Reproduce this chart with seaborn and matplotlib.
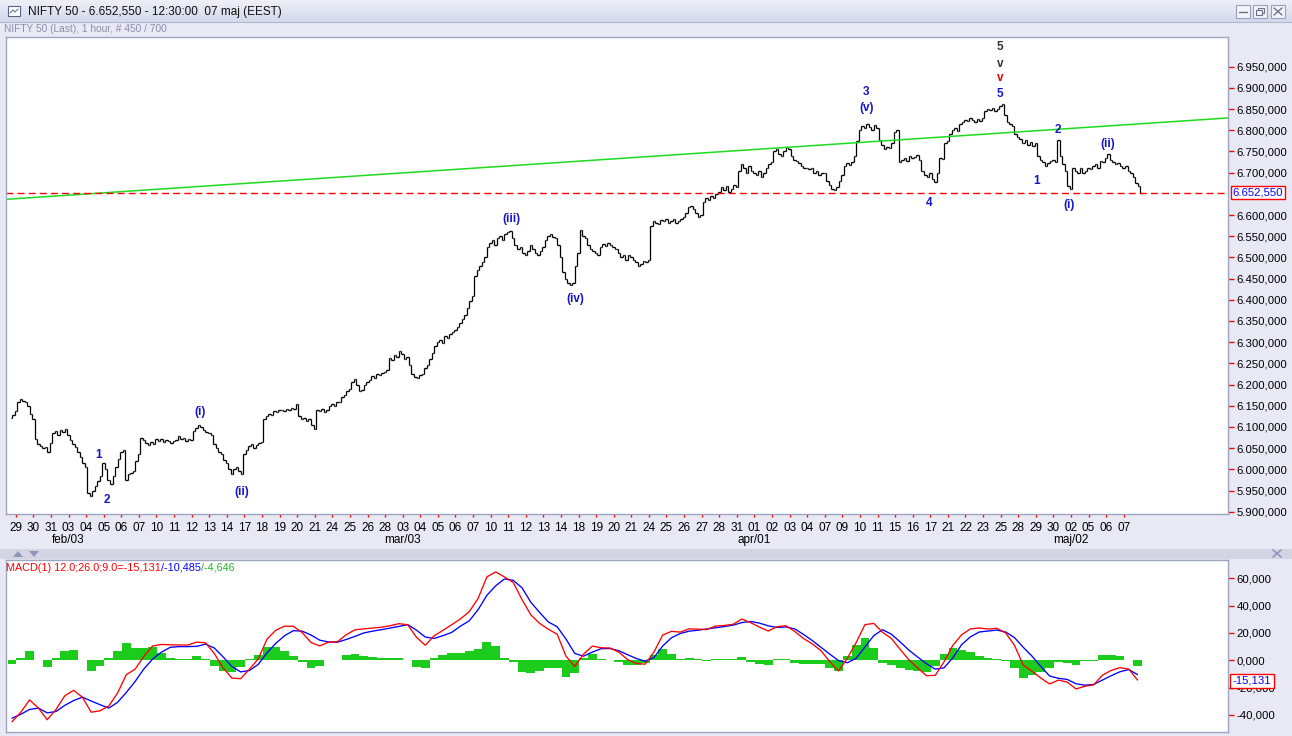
import numpy as np
import pandas as pd
import matplotlib.pyplot as plt
import seaborn as sns
from matplotlib.patches import Rectangle, Polygon
from matplotlib.colors import LinearSegmentedColormap
from matplotlib.transforms import blended_transform_factory

# ---------------------------------------------------------------- data
day_labels = [
    "29", "30", "31",
    "03", "04", "05", "06", "07", "10", "11", "12", "13", "14", "17", "18", "19", "20", "21",
    "24", "25", "26", "28",
    "03", "04", "05", "06", "07", "10", "11", "12", "13", "14", "18", "19", "20", "21",
    "24", "25", "26", "27", "28", "31",
    "01", "02", "03", "04", "07", "09", "10", "11", "15", "16", "17", "21", "22", "23",
    "25", "28", "29", "30",
    "02", "05", "06", "07",
]
month_labels = ["feb/03", "mar/03", "apr/01", "maj/02"]
month_days = [3, 22, 42, 60]

first_open = 6120
# hourly closes, 2 bars of 28 Jan then 7 bars per trading day
closes = [
    6128, 6138,
    6160, 6165, 6162, 6158, 6150, 6130, 6118,
    6072, 6060, 6055, 6050, 6052, 6040, 6062,
    6085, 6090, 6082, 6092, 6088, 6095, 6080,
    6070, 6060, 6052, 6040, 6030, 6015, 6005,
    5945, 5938, 5950, 5960, 5972, 5985, 6015,
    6000, 5975, 5965, 5985, 6005, 6025, 6040,
    6045, 5975, 5990, 5992, 5995, 6020, 6035,
    6075, 6070, 6062, 6058, 6065, 6060, 6072,
    6068, 6072, 6065, 6070, 6068, 6062, 6066,
    6070, 6078, 6072, 6075, 6068, 6072, 6070,
    6090, 6098, 6105, 6100, 6092, 6088, 6085,
    6080, 6060, 6050, 6040, 6035, 6022, 6015,
    6000, 5990, 6000, 6005, 5995, 5988, 6035,
    6045, 6055, 6060, 6050, 6058, 6062, 6065,
    6118, 6125, 6130, 6128, 6138, 6135, 6140,
    6140, 6138, 6142, 6140, 6145, 6142, 6155,
    6125, 6118, 6120, 6115, 6118, 6105, 6095,
    6140, 6138, 6142, 6136, 6140, 6150, 6155,
    6150, 6160, 6158, 6170, 6175, 6185, 6190,
    6205, 6212, 6200, 6185, 6188, 6198, 6205,
    6210, 6220, 6215, 6225, 6222, 6228, 6230,
    6235, 6262, 6258, 6270, 6265, 6278, 6272,
    6260, 6265, 6245, 6225, 6218, 6215, 6222,
    6225, 6240, 6245, 6260, 6275, 6290, 6300,
    6305, 6298, 6315, 6310, 6320, 6325, 6328,
    6335, 6345, 6355, 6365, 6380, 6398, 6410,
    6455, 6470, 6480, 6490, 6500, 6525, 6535,
    6540, 6530, 6545, 6550, 6540, 6555, 6560,
    6562, 6545, 6530, 6520, 6525, 6510, 6505,
    6515, 6530, 6520, 6510, 6505, 6515, 6525,
    6540, 6550, 6555, 6548, 6545, 6530, 6500,
    6465, 6450, 6440, 6435, 6440, 6480, 6510,
    6565, 6550, 6545, 6530, 6520, 6515, 6510,
    6505, 6525, 6532, 6528, 6535, 6530, 6525,
    6520, 6510, 6500, 6505, 6495, 6505, 6500,
    6495, 6490, 6480, 6485, 6492, 6488, 6495,
    6575, 6585, 6580, 6578, 6588, 6585, 6590,
    6582, 6585, 6590, 6580, 6585, 6590, 6595,
    6605, 6618, 6622, 6615, 6605, 6595, 6600,
    6630, 6640, 6635, 6645, 6640, 6650, 6655,
    6665, 6660, 6668, 6655, 6662, 6670, 6665,
    6705, 6720, 6710, 6700, 6715, 6705, 6700,
    6695, 6705, 6690, 6700, 6710, 6720, 6725,
    6750, 6755, 6745, 6740, 6750, 6760, 6755,
    6740, 6730, 6728, 6722, 6715, 6712, 6710,
    6708, 6712, 6700, 6705, 6695, 6700, 6698,
    6680, 6670, 6662, 6660, 6665, 6680, 6695,
    6715, 6722, 6718, 6725, 6740, 6775, 6800,
    6810, 6805, 6815, 6808, 6800, 6812, 6805,
    6778, 6765, 6755, 6760, 6758, 6770, 6795,
    6800, 6725, 6730, 6735, 6728, 6740, 6735,
    6738, 6742, 6730, 6705, 6695, 6690, 6700,
    6685, 6678, 6700, 6735, 6732, 6770, 6775,
    6790, 6800, 6805, 6798, 6815, 6820, 6825,
    6822, 6828, 6825, 6820, 6826, 6822, 6830,
    6845, 6850, 6848, 6852, 6845, 6850, 6858,
    6862, 6835, 6820, 6815, 6810, 6790, 6785,
    6780, 6770, 6778, 6765, 6772, 6762, 6770,
    6740, 6730, 6725, 6715, 6722, 6728, 6730,
    6725, 6778, 6740, 6720, 6705, 6668, 6662,
    6710, 6705, 6700, 6712, 6698, 6705, 6710,
    6708, 6715, 6720, 6712, 6728, 6725, 6735,
    6745, 6730, 6725, 6720, 6722, 6715, 6712,
    6715, 6705, 6698, 6690, 6675, 6668, 6652.55,
]
last_price = 6652.55

# trend line end points (bar index, price)
trend_x = [-2.4, 484.0]
trend_y = [6637, 6829]

# Elliott wave labels: text, bar index, price, colour
wave_text = ["1", "2", "(i)", "(ii)", "(iii)", "(iv)", "3", "(v)", "4",
             "5", "v", "v", "5", "1", "2", "(i)", "(ii)"]
wave_x = [34.6, 37.7, 74.8, 91.4, 198.9, 224.1, 340.1, 340.3, 364.9,
          393.2, 393.2, 393.2, 393.2, 407.9, 416.1, 420.6, 436.2]
wave_y = [6034, 5928, 6136, 5947, 6591, 6401, 6891, 6853, 6628,
          6997, 6956, 6923, 6886, 6680, 6801, 6624, 6768]
wave_color = ["#1515c8"] * 9 + ["#333333", "#333333", "#e00000"] + ["#1515c8"] * 5

# MACD(12,26,9), sampled every half trading day
macd_line = [
    -45, -38, -29, -35, -43.5, -36, -26, -22, -27, -38,
    -37, -33.5, -24, -10.5, -6.5, 3, 10.5, 11.6, 11.3, 11.2,
    11.2, 13.3, 12.8, 5, -5.5, -13, -13.5, -6.5, 1, 15.5,
    22, 25, 24.8, 20.3, 13, 10.5, 13.3, 13.5, 18.7, 22.3,
    23, 23.6, 24.2, 25.3, 26.8, 26, 16.8, 11, 17.9, 21.9,
    26, 30.3, 35.6, 45.2, 61, 64.7, 61, 57, 44.4, 33.3,
    27, 22.7, 19, 3, -4.5, 4.5, 10.4, 9.1, 9, 6,
    0.5, -2.3, -2.9, 6, 18.5, 21.2, 20.6, 23, 22.8, 22.5,
    25, 25.5, 26.3, 30.2, 27.5, 24.3, 21.4, 24.6, 25.3, 21.2,
    16, 12, 7, -1, -7.8, 1.5, 13, 26.1, 27, 20.5,
    16, 8, 0.3, -5.7, -11.3, -11, -1, 11, 18.7, 23,
    23.6, 22.9, 23.4, 20, 11, -3.5, -8, -13, -17.3, -14.5,
    -16, -21, -19, -18, -11, -7.4, -5.4, -6.5, -14.5,
]
signal_line = [
    -42.4, -39.5, -36, -35, -38.5, -37.5, -33, -29.5, -27, -29.8,
    -32.5, -35, -30.8, -23.5, -15.5, -6.3, 1, 6, 9.5, 10,
    10, 10.2, 11.8, 9, 2.5, -4.5, -8.5, -7.5, -3, 5.5,
    12.4, 18, 21.7, 21.3, 18.5, 14.7, 13.4, 13.2, 15.2, 17.5,
    20, 21.3, 22.4, 23.6, 24.8, 26.1, 22, 17, 16, 18,
    20.4, 25, 28.9, 37, 47.5, 54.5, 59.5, 58.5, 53, 42.5,
    35, 28, 24.5, 15.5, 5, 3, 6, 8.5, 8.6, 7,
    4.1, 1.3, -0.7, 2, 10.5, 16.5, 19.6, 21.3, 22, 22.9,
    23.8, 24.7, 25.7, 27.6, 28.4, 27.2, 25.2, 24, 24.4, 23,
    19, 14.5, 9.5, 4.5, -0.3, -1.8, 1.5, 9.8, 18, 22.4,
    19.1, 13.5, 7.4, 2.3, -2.5, -6.5, -5.5, 1.9, 11.5, 17.2,
    20.7, 21.4, 22.1, 20.7, 16.6, 9.5, 3, -4.5, -11.5, -13.2,
    -14, -17.2, -18.2, -17.7, -14.5, -11.3, -8.4, -6.8, -10.5,
]
macd_text = ["MACD(1) 12.0;26.0;9.0=-15,131", "/-10,485", "/-4,646"]
macd_last = -15.131

# ---------------------------------------------------------------- style
W, H = 1292, 736
BG = "#e9e9f5"
EDGE = "#9ea6c0"

sns.set_theme(style="white")
plt.rcParams["font.family"] = ["Liberation Sans", "DejaVu Sans"]


def px_box(x0, y0, x1, y1):
    return [x0 / W, 1 - y1 / H, (x1 - x0) / W, (y1 - y0) / H]


def price_fmt(v):
    return f"{v:,.3f}".replace(",", "#").replace(".", ",").replace("#", ".")


def macd_fmt(v):
    return f"{v:.3f}".replace(".", ",")


fig = plt.figure(figsize=(W / 100, H / 100), dpi=100)
fig.patch.set_facecolor(BG)

# window chrome drawn in pixel coordinates
chrome = fig.add_axes([0, 0, 1, 1], zorder=0)
chrome.set_xlim(0, W)
chrome.set_ylim(H, 0)
chrome.axis("off")
title_cmap = LinearSegmentedColormap.from_list("title", ["#eef0f8", "#d4d8ea"])
chrome.imshow(np.linspace(0, 1, 22).reshape(-1, 1), cmap=title_cmap, aspect="auto",
              extent=(0, W, 22, 0), interpolation="bilinear")
chrome.set_xlim(0, W)
chrome.set_ylim(H, 0)
chrome.plot([0, W], [22, 22], color="#b4b9cf", lw=0.8)
chrome.add_patch(Rectangle((8, 6), 12, 10, fc="white", ec="#56658c", lw=0.8))
chrome.plot([10, 13, 15, 18], [13, 10, 12, 9], color="#56658c", lw=0.7)
chrome.text(28, 11.5, "NIFTY 50 - 6.652,550 - 12:30:00  07 maj (EEST)",
            fontsize=8.5, color="#111111", va="center", ha="left")
for bx in [1236, 1253, 1271]:
    chrome.add_patch(Rectangle((bx, 5), 14, 13, fc="#f3f4f9", ec="#9aa0b8", lw=0.8))
chrome.plot([1239, 1247], [12, 12], color="#6b7188", lw=1)
chrome.add_patch(Rectangle((1258, 7.5), 6, 5, fc="none", ec="#6b7188", lw=0.8))
chrome.add_patch(Rectangle((1256, 10), 6, 5, fc="#f3f4f9", ec="#6b7188", lw=0.8))
chrome.plot([1274, 1282], [8, 15], color="#6b7188", lw=1)
chrome.plot([1274, 1282], [15, 8], color="#6b7188", lw=1)
chrome.text(4, 29, "NIFTY 50 (Last), 1 hour, # 450 / 700",
            fontsize=7.3, color="#8a90aa", va="center", ha="left")
chrome.add_patch(Rectangle((0, 549), W, 10, fc="#d3d5e3", ec="none"))
chrome.add_patch(Polygon([(13, 557), (23, 557), (18, 551)], fc="#8c96b8", ec="none"))
chrome.add_patch(Polygon([(29, 551), (39, 551), (34, 557)], fc="#8c96b8", ec="none"))
chrome.plot([1273, 1281], [550, 557], color="#8c96b8", lw=1.2)
chrome.plot([1273, 1281], [557, 550], color="#8c96b8", lw=1.2)

# ---------------------------------------------------------------- price panel
ax = fig.add_axes(px_box(6, 37, 1228, 514), zorder=1)
ax.set_facecolor("white")

bars = pd.DataFrame({"close": closes})
bars["open"] = [first_open] + closes[:-1]
bars["bar"] = np.arange(len(bars))
lo = bars[["open", "close"]].min(axis=1)
hi = bars[["open", "close"]].max(axis=1)
ax.vlines(bars["bar"], lo, hi, color="black", lw=0.9)
ax.hlines(bars["open"], bars["bar"] - 0.6, bars["bar"], color="black", lw=0.9)
ax.hlines(bars["close"], bars["bar"], bars["bar"] + 0.6, color="black", lw=0.9)

sns.lineplot(x=trend_x, y=trend_y, ax=ax, color="#1fdc1f", lw=1.1)
ax.axhline(last_price, color="#ff0000", lw=1, dashes=(5, 3))

for t, x, y, c in zip(wave_text, wave_x, wave_y, wave_color):
    ax.text(x, y, t, color=c, fontsize=8.5, fontweight="bold", ha="center", va="center")

xmin, xmax = -2.4, 484.0
ax.set_xlim(xmin, xmax)
ax.set_ylim(5894.6, 7020)

tick_pos = 1.5 + 7 * np.arange(len(day_labels))
ax.set_xticks(tick_pos)
ax.set_xticklabels(day_labels)
price_ticks = [v for v in range(5900, 7000, 50) if v != 6650]
ax.set_yticks(price_ticks)
ax.set_yticklabels([price_fmt(v) for v in price_ticks])
ax.yaxis.tick_right()
ax.tick_params(axis="y", right=True, left=False, direction="out", length=4, width=1,
               color="red", labelsize=8.2, pad=2, labelcolor="black")
ax.tick_params(axis="x", bottom=True, direction="out", length=2.5, width=1,
               color="red", labelsize=8.5, pad=3, labelcolor="black")
for name, d in zip(month_labels, month_days):
    ax.text(tick_pos[d], -0.055, name, transform=blended_transform_factory(ax.transData, ax.transAxes),
            fontsize=8.5, ha="center", va="center", color="black")
for s in ax.spines.values():
    s.set_color(EDGE)
    s.set_linewidth(1)
ax.set_xlabel("")
ax.set_ylabel("")
ax.text(1.0039, last_price, price_fmt(last_price),
        transform=blended_transform_factory(ax.transAxes, ax.transData),
        color="#0000ff", fontsize=8.2, ha="left", va="center", clip_on=False, zorder=5,
        bbox=dict(boxstyle="square,pad=0.15", fc="white", ec="red", lw=1))

# ---------------------------------------------------------------- MACD panel
ax2 = fig.add_axes(px_box(6, 560, 1228, 732), zorder=1)
ax2.set_facecolor("white")

macd = pd.DataFrame({"macd": macd_line, "signal": signal_line})
macd["bar"] = np.arange(len(macd)) * 3.5
macd["hist"] = macd["macd"] - macd["signal"]
ax2.bar(macd["bar"], macd["hist"], width=3.5, color="#1ccc1c", lw=0)
sns.lineplot(data=macd, x="bar", y="signal", ax=ax2, color="#0000ff", lw=0.95)
sns.lineplot(data=macd, x="bar", y="macd", ax=ax2, color="#ff0000", lw=0.95)

ax2.set_xlim(xmin, xmax)
ax2.set_ylim(-52.5, 73.4)
ax2.set_xticks([])
macd_ticks = [-40, -20, 0, 20, 40, 60]
ax2.set_yticks(macd_ticks)
ax2.set_yticklabels([macd_fmt(v) for v in macd_ticks])
ax2.yaxis.tick_right()
ax2.tick_params(axis="y", right=True, left=False, direction="out", length=4, width=1,
                color="red", labelsize=8.2, pad=2, labelcolor="black")
for s in ax2.spines.values():
    s.set_color(EDGE)
    s.set_linewidth(1)
ax2.set_xlabel("")
ax2.set_ylabel("")

t1 = ax2.text(0.0, 0.985, macd_text[0], transform=ax2.transAxes, color="#ff0000",
              fontsize=7.8, ha="left", va="top")
t2 = ax2.annotate(macd_text[1], xy=(1, 0), xycoords=t1, color="#0000ff",
                  fontsize=7.8, ha="left", va="bottom")
ax2.annotate(macd_text[2], xy=(1, 0), xycoords=t2, color="#22b822",
             fontsize=7.8, ha="left", va="bottom")
ax2.text(1.0039, macd_last, macd_fmt(macd_last),
         transform=blended_transform_factory(ax2.transAxes, ax2.transData),
         color="#0000ff", fontsize=8.2, ha="left", va="center", clip_on=False, zorder=5,
         bbox=dict(boxstyle="square,pad=0.2", fc="white", ec="red", lw=1))

fig.savefig("out.png", dpi=100, facecolor=BG)
